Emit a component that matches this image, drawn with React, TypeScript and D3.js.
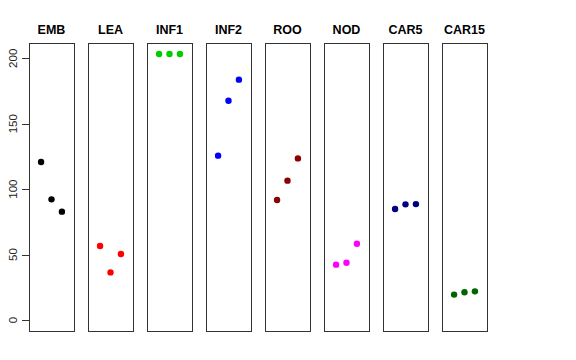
import React from "react";
import * as d3 from "d3";

// panel names and their point colours
const panels = ["EMB", "LEA", "INF1", "INF2", "ROO", "NOD", "CAR5", "CAR15"];
const colors = ["#000000", "#ff0000", "#00cd00", "#0000ff", "#8b0000", "#ff00ff", "#000080", "#006400"];

// three values per panel
const values = [
  [120.7, 92.2, 82.8],
  [56.6, 36.4, 50.4],
  [203.3, 203.3, 203.3],
  [125.6, 167.6, 183.7],
  [91.7, 106.5, 123.5],
  [42.3, 43.8, 58.3],
  [84.8, 88.4, 88.6],
  [19.4, 21.2, 21.9],
];

const yTicks = [0, 50, 100, 150, 200];

const W = 576;
const H = 360;
const top = 43;
const bottom = 331;
const firstLeft = 29;
const step = 59;
const panelW = 45;

export default function App() {
  const y = d3.scaleLinear().domain([-8.4, 211.7]).range([bottom, top]);
  const x = d3.scaleLinear().domain([-0.16, 4.16]).range([0, panelW]);

  return (
    <svg
      width={W}
      height={H}
      style={{ position: "absolute", left: 0, top: 0, background: "white" }}
      fontFamily="'Liberation Sans', Arial, sans-serif"
    >
      {panels.map((name, i) => {
        const left = firstLeft + step * i;
        return (
          <g key={name} transform={`translate(${left},0)`}>
            <rect x={0.5} y={top + 0.5} width={panelW} height={bottom - top} fill="none" stroke="#333" strokeWidth={1} />
            <text x={panelW / 2} y={34} textAnchor="middle" fontWeight="bold" fontSize={12.5}>
              {name}
            </text>
            {values[i].map((v, j) => (
              <circle key={j} cx={x(j + 1)} cy={y(v)} r={3.2} fill={colors[i]} />
            ))}
          </g>
        );
      })}
      {/* y axis */}
      <g>
        <line x1={29.5} x2={29.5} y1={y(0)} y2={y(200)} stroke="#333" />
        {yTicks.map((t) => (
          <g key={t}>
            <line x1={22} x2={29.5} y1={Math.round(y(t)) + 0.5} y2={Math.round(y(t)) + 0.5} stroke="#333" />
            <text
              transform={`translate(16.5,${y(t)}) rotate(-90)`}
              textAnchor="middle"
              fontSize={11.5}
              fill="#222"
            >
              {t}
            </text>
          </g>
        ))}
      </g>
    </svg>
  );
}
